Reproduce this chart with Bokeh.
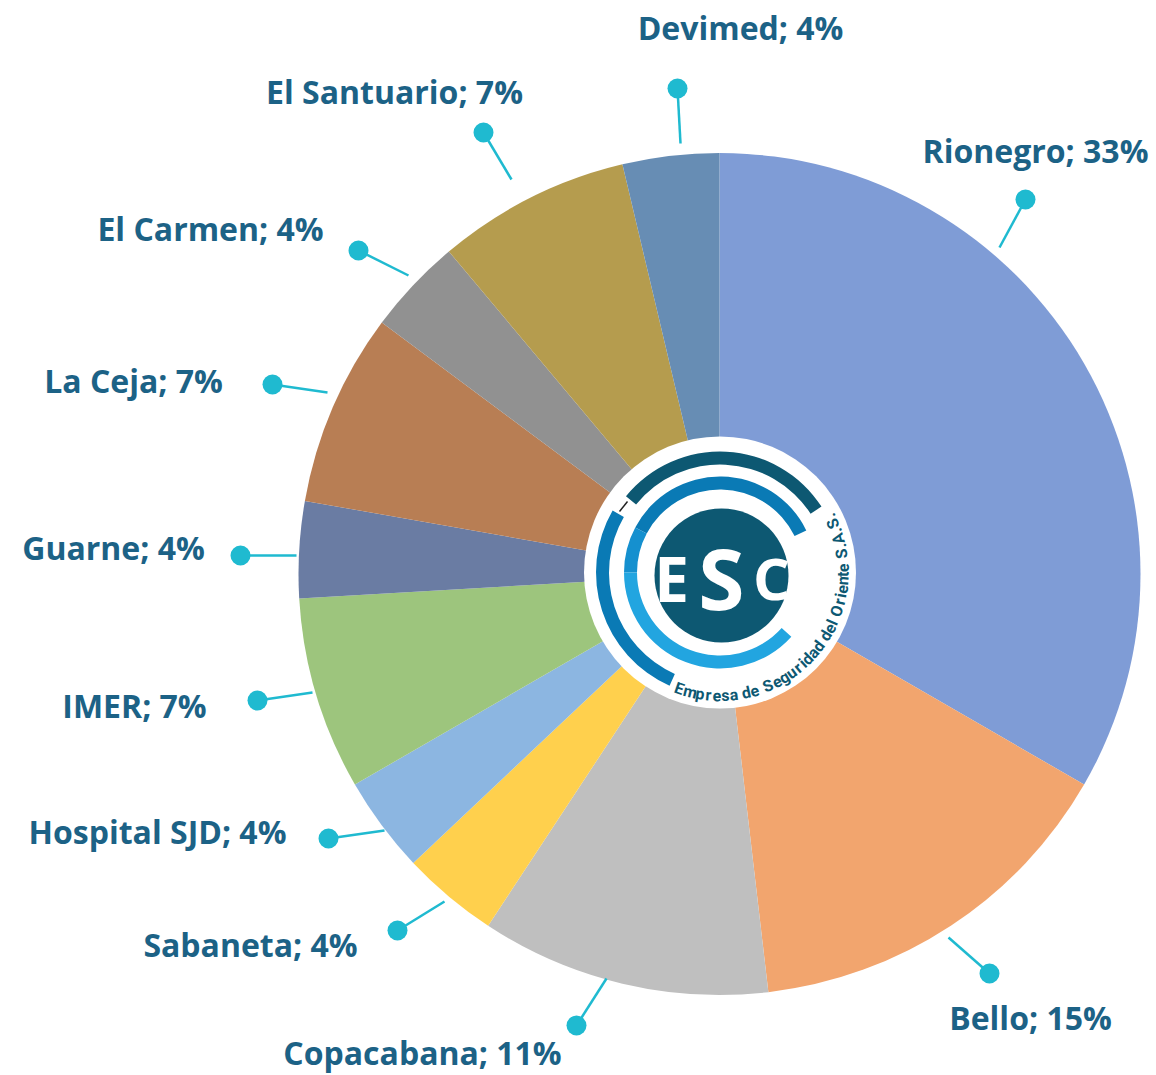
import math
from bokeh.plotting import figure
from bokeh.models import Range1d, ColumnDataSource
from bokeh.core.properties import value
from bokeh.embed import file_html
from bokeh.resources import INLINE

municipios = ["Rionegro","Bello","Copacabana","Sabaneta","Hospital SJD","IMER","Guarne","La Ceja","El Carmen","El Santuario","Devimed"]
conteos = [9,4,3,1,1,2,1,2,1,2,1]
porcentajes = [33,15,11,4,4,7,4,7,4,7,4]
colores = ["#7F9CD6","#F2A56E","#BFBFBF","#FFD04D","#8CB6E1","#9DC57D","#6A7CA3","#B87E54","#919191","#B59C4E","#678DB4"]

# layout of labels (pixel positions of the page)
label_cx = [1035,1030,422,250,157,134,113,133,210,394,740]
label_mid_y = [150,1017,1052,944,831,705,547,380,228,91,27]
leader_a_x = [999,948,606,444,384,312,296,327,408,511,680]
leader_a_y = [247,937,978,901,830,692,555,392,275,179,143]
dot_x = [1025,989,576,397,328,257,240,272,358,483,677]
dot_y = [199,973,1025,930,838,700,555,384,250,132,88]

W, H = 1156, 1075
CX, CY, R = 719, 573.5, 421
FONT = "Open Sans"
TXT = "#1C6286"

p = figure(width=W, height=H, output_backend="svg", toolbar_location=None,
           x_range=Range1d(0, W), y_range=Range1d(-H, 0),
           x_axis_type=None, y_axis_type=None, min_border=0, outline_line_color=None)
p.grid.visible = False
p.background_fill_color = "white"
p.border_fill_color = "white"

def rad(t):
    return math.radians(90 - t)

total = sum(conteos)
starts, ends = [], []
acc = 0
for c in conteos:
    starts.append(rad(acc/total*360))
    acc += c
    ends.append(rad(acc/total*360))
src = ColumnDataSource(dict(x=[CX]*len(conteos), y=[-CY]*len(conteos), s=starts, e=ends, c=colores))
p.wedge(x="x", y="y", radius=R, start_angle="s", end_angle="e", direction="clock",
        fill_color="c", line_color=None, source=src)

# leaders and dots
p.segment(x0=leader_a_x, y0=[-v for v in leader_a_y], x1=dot_x, y1=[-v for v in dot_y],
          line_color="#1FBAD0", line_width=2.5)
p.scatter(x=dot_x, y=[-v for v in dot_y], size=20, fill_color="#1FBAD0", line_color=None)

# labels
labels = [f"{m}; {v}%" for m, v in zip(municipios, porcentajes)]
p.text(x=label_cx, y=[-v for v in label_mid_y], text=labels, text_font=value(FONT),
       text_font_style="bold", text_font_size="32px", text_color=TXT,
       text_align="center", text_baseline="middle")

# logo
LX, LY = 719.5, 572
p.circle(x=[LX], y=[-LY], radius=136, fill_color="white", line_color=None)
def arc(r0, r1, a, b, col):
    p.annular_wedge(x=[LX], y=[-LY], inner_radius=r0, outer_radius=r1,
                    start_angle=rad(a), end_angle=rad(b), direction="clock",
                    fill_color=col, line_color=None)
arc(108, 121, -51, 57, "#0D5872")
arc(83, 96, -62, 64, "#0A7AB5")
arc(83, 96, 270, 298, "#1590CF")
arc(83, 96, 132, 270, "#22A5E0")
arc(111, 124, 204, 300, "#0A7AB5")
p.segment(x0=[619], y0=[-511], x1=[627], y1=[-501], line_color="#222222", line_width=1.5)
p.circle(x=[721], y=[-575], radius=67, fill_color="#0D5872", line_color=None)

for ch, x, size in [("E", 671, "62px"), ("S", 721, "84px"), ("C", 771, "58px")]:
    p.text(x=[x], y=[-577], text=[ch], text_font=value(FONT),
           text_font_style="bold", text_font_size=size, text_color="white",
           text_align="center", text_baseline="middle")

ring_text = "Empresa de Seguridad del Oriente S.A.S."
narrow = set("il.t ;")
wide = set("EmOSAG")
w = [0.5 if ch in narrow else 1.35 if ch in wide else 1.0 for ch in ring_text]
sweep0, sweep1 = 202, 62
tot = sum(w)
xs, ys, angs = [], [], []
run = 0
for wi in w:
    th = sweep0 + (sweep1 - sweep0) * (run + wi/2) / tot
    run += wi
    xs.append(LX + 123*math.sin(math.radians(th)))
    ys.append(-(LY - 123*math.cos(math.radians(th))))
    angs.append(math.radians(180 - th))
p.text(x=xs, y=ys, text=list(ring_text), angle=angs, text_font=value("Roboto"),
       text_font_style="bold", text_font_size="16px", text_color="#0D5872",
       text_align="center", text_baseline="middle")

open("out.html", "w").write(file_html(p, INLINE))
